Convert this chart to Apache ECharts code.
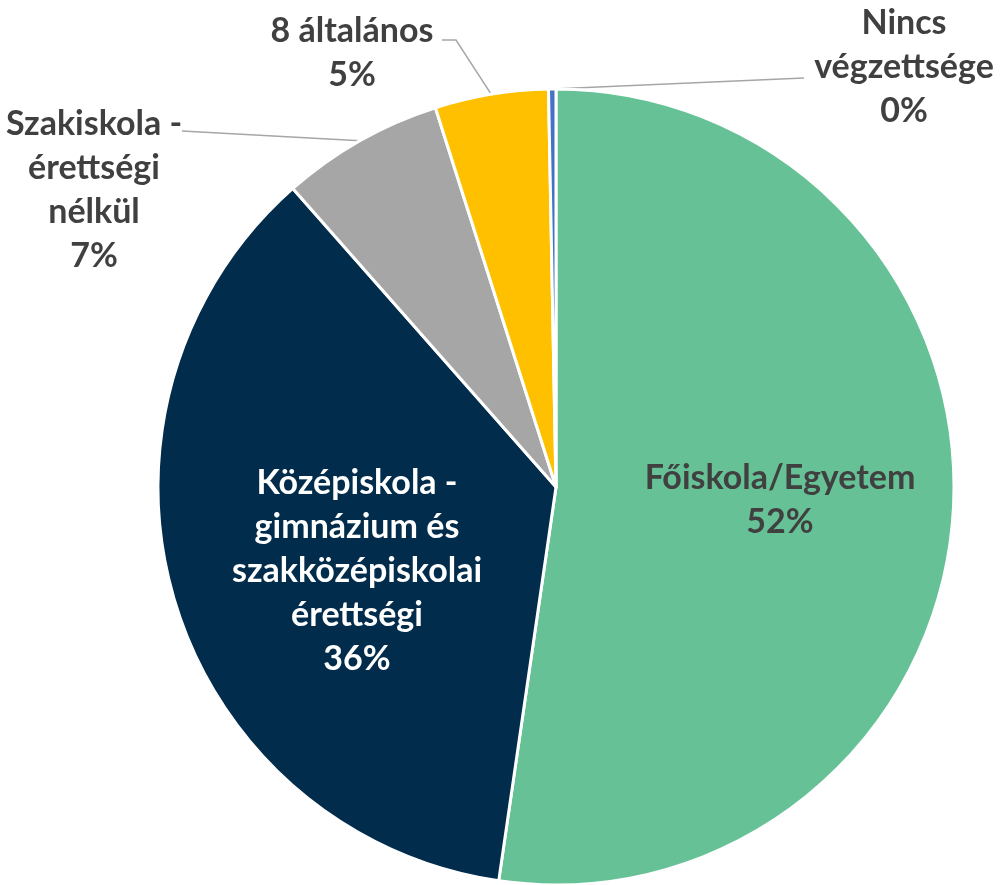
<!DOCTYPE html>
<html>
<head>
<meta charset="utf-8">
<script src="https://cdn.jsdelivr.net/npm/echarts@6/dist/echarts.min.js"></script>
<style>
html,body{margin:0;padding:0;background:#fff;}
#chart{width:1002px;height:885px;}
</style>
</head>
<body>
<div id="chart"></div>
<script>
const categories = ['Főiskola/Egyetem', 'Középiskola - gimnázium és szakközépiskolai érettségi', 'Szakiskola - érettségi nélkül', '8 általános', 'Nincs végzettsége'];
const labelTexts = ['Főiskola/Egyetem', 'Középiskola -\ngimnázium és\nszakközépiskolai\nérettségi', 'Szakiskola -\nérettségi\nnélkül', '8 általános', 'Nincs\nvégzettsége'];
const values = [52.3, 36.2, 6.6, 4.6, 0.3];
const colors = ['#66C296', '#022C4B', '#A6A6A6', '#FFC000', '#4472C4'];
const textColors = ['#404040', '#FFFFFF', '#404040', '#404040', '#404040'];
const outside = [false, false, true, true, true];
// label block centres, and leader-line bend/end points (label decoration layout)
const labelPlacement = [
  {x: 780, y: 500},
  {x: 357, y: 571},
  {x: 94, y: 190, bend: [182, 131], end: [182, 131]},
  {x: 352, y: 53, bend: [456, 40], end: [442, 40]},
  {x: 904, y: 67, bend: [804, 78], end: [804, 78]}
];

const chart = echarts.init(document.getElementById('chart'), null, {renderer: 'canvas'});
const data = categories.map((c, i) => ({
  name: c,
  value: values[i],
  itemStyle: {color: colors[i]},
  label: {
    position: outside[i] ? 'outside' : 'inside',
    color: textColors[i],
    formatter: (p) => labelTexts[p.dataIndex] + '\n' + p.percent + '%'
  },
  labelLine: {show: outside[i]}
}));

chart.setOption({
  animation: false,
  backgroundColor: '#ffffff',
  series: [{
    type: 'pie',
    center: [556, 487],
    radius: 398,
    startAngle: 90,
    clockwise: true,
    percentPrecision: 0,
    avoidLabelOverlap: false,
    itemStyle: {borderColor: '#ffffff', borderWidth: 3},
    label: {
      show: true,
      fontFamily: 'Lato',
      fontWeight: 'bold',
      fontSize: 34,
      lineHeight: 44,
      align: 'center'
    },
    labelLine: {
      lineStyle: {color: '#A6A6A6', width: 1.5},
      length: 20,
      length2: 20
    },
    labelLayout: (params) => {
      const p = labelPlacement[params.dataIndex];
      const out = {x: p.x, y: p.y, align: 'center', verticalAlign: 'middle'};
      if (p.end && params.labelLinePoints) {
        out.labelLinePoints = [params.labelLinePoints[0], p.bend, p.end];
      }
      return out;
    },
    data: data
  }]
});
</script>
</body>
</html>
